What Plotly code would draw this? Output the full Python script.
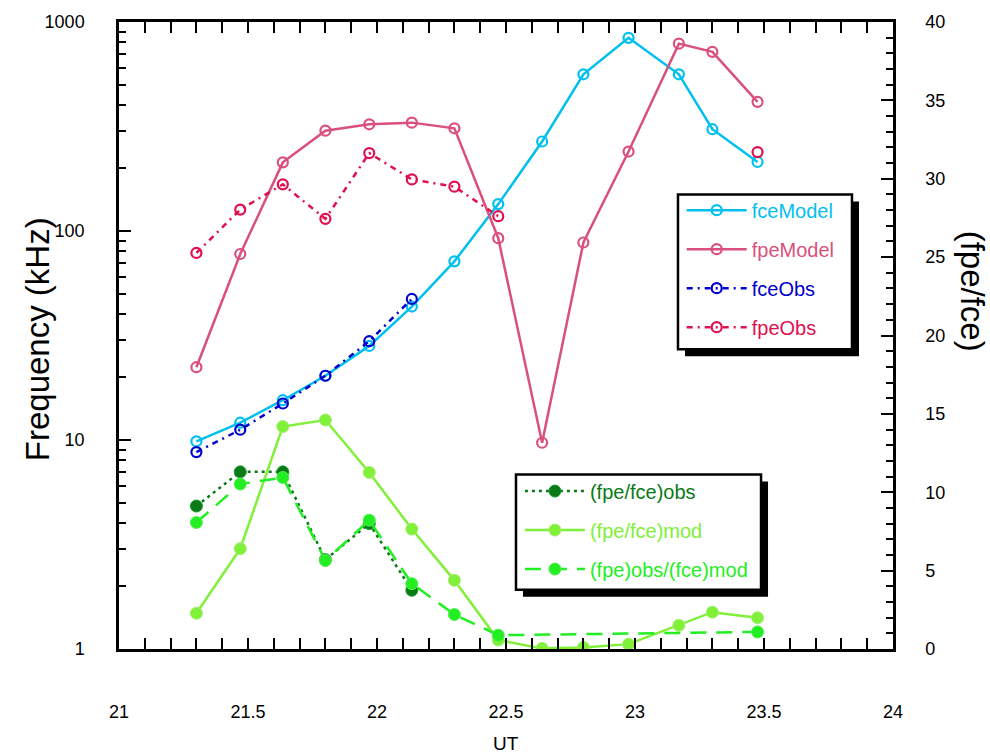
import plotly.graph_objects as go

# Universal time (hours) of each sample
ut = [21.30, 21.47, 21.635, 21.80, 21.97, 22.135, 22.30, 22.47, 22.64, 22.80, 22.975, 23.17, 23.30, 23.475]

# Frequencies in kHz (left log axis)
fce_model = [9.86, 12.1, 15.5, 20.3, 28.2, 43.5, 71.6, 134.5, 268, 562, 840, 562, 307, 214]
fpe_model = [22.3, 77.6, 213, 302, 324, 330, 310, 92.4, 9.7, 88.1, 240, 788, 720, 415]
fce_obs = [8.75, 11.2, 14.95, 20.3, 29.7, 47.3, None, None, None, None, None, None, None, None]
fpe_obs = [78.5, 126.6, 167.2, 114.3, 235.9, 176.6, 163, 117.7, None, None, None, None, None, 238.5]

# Frequency ratios (right linear axis)
ratio_obs = [9.12, 11.3, 11.3, 5.7, 8.0, 3.75, None, None, None, None, None, None, None, None]
ratio_mod = [2.28, 6.40, 14.19, 14.61, 11.26, 7.65, 4.38, 0.57, 0.04, 0.10, 0.31, 1.51, 2.35, 1.99]
ratio_obs_mod = [8.07, 10.52, 10.94, 5.64, 8.22, 4.17, 2.20, 0.88, None, None, None, None, None, 1.09]

FONT = "Liberation Sans, Arial, sans-serif"

C_FCE_MOD = "#00c0f0"
C_FPE_MOD = "#d9507c"
C_FCE_OBS = "#0000cc"
C_FPE_OBS = "#e0104e"
C_R_OBS = "#0a7a18"
C_R_MOD = "#80f038"
C_R_OM = "#22ee22"


def label(text, color):
    return f"<span style='color:{color}'>{text}</span>"


fig = go.Figure()

open_marker = dict(symbol="circle-open", size=10, line=dict(width=2.2))

fig.add_trace(go.Scatter(
    x=ut, y=fce_model, name=label("fceModel", C_FCE_MOD), mode="lines+markers",
    line=dict(color=C_FCE_MOD, width=2.5), marker=dict(color=C_FCE_MOD, **open_marker),
    legend="legend", legendgroup="a"))
fig.add_trace(go.Scatter(
    x=ut, y=fpe_model, name=label("fpeModel", C_FPE_MOD), mode="lines+markers",
    line=dict(color=C_FPE_MOD, width=2.5), marker=dict(color=C_FPE_MOD, **open_marker),
    legend="legend", legendgroup="b"))
fig.add_trace(go.Scatter(
    x=ut, y=fce_obs, name=label("fceObs", C_FCE_OBS), mode="lines+markers",
    line=dict(color=C_FCE_OBS, width=2.5, dash="6px,5px,2px,5px"),
    marker=dict(color=C_FCE_OBS, **open_marker),
    legend="legend", legendgroup="c"))
fig.add_trace(go.Scatter(
    x=ut, y=fpe_obs, name=label("fpeObs", C_FPE_OBS), mode="lines+markers",
    line=dict(color=C_FPE_OBS, width=2.5, dash="6px,5px,2px,5px"),
    marker=dict(color=C_FPE_OBS, **open_marker),
    legend="legend", legendgroup="d"))

fig.add_trace(go.Scatter(
    x=ut, y=ratio_obs, yaxis="y2", name=label("(fpe/fce)obs", C_R_OBS), mode="lines+markers",
    line=dict(color=C_R_OBS, width=2.5, dash="3px,4px"),
    marker=dict(color=C_R_OBS, size=12, line=dict(color="#1a9a2a", width=1)),
    legend="legend2", legendgroup="e"))
fig.add_trace(go.Scatter(
    x=ut, y=ratio_mod, yaxis="y2", name=label("(fpe/fce)mod", C_R_MOD), mode="lines+markers",
    line=dict(color=C_R_MOD, width=2.5),
    marker=dict(color=C_R_MOD, size=12, line=dict(color="#a0f070", width=1)),
    legend="legend2", legendgroup="f"))
fig.add_trace(go.Scatter(
    x=ut, y=ratio_obs_mod, yaxis="y2", name=label("(fpe)obs/(fce)mod", C_R_OM), mode="lines+markers",
    connectgaps=True,
    line=dict(color=C_R_OM, width=2.5, dash="16px,10px"),
    marker=dict(color=C_R_OM, size=12, line=dict(color="#50f050", width=1)),
    legend="legend2", legendgroup="g"))

axis_common = dict(
    showline=True, linecolor="black", linewidth=2.5,
    ticks="inside", tickcolor="black", tickwidth=2,
    showgrid=False, zeroline=False,
    tickfont=dict(family=FONT, size=18, color="black"),
)

legend_common = dict(
    xanchor="left", yanchor="top",
    bgcolor="rgba(0,0,0,0)", borderwidth=0,
    font=dict(family=FONT, size=20), tracegroupgap=10, itemwidth=60,
)

fig.update_layout(
    width=990, height=756,
    margin=dict(l=119, r=97, t=13, b=107),
    paper_bgcolor="white", plot_bgcolor="white",
    font=dict(family=FONT, color="black"),
    xaxis=dict(
        range=[21, 24], tickmode="array", tickvals=[21, 21.5, 22, 22.5, 23, 23.5, 24],
        ticktext=["21", "21.5", "22", "22.5", "23", "23.5", "24"],
        ticklen=11, mirror="allticks", ticklabelstandoff=45,
        minor=dict(dtick=0.1, ticks="inside", ticklen=6, tickcolor="black", tickwidth=2, showgrid=False),
        **axis_common),
    yaxis=dict(
        type="log", range=[0, 3], tickmode="array", tickvals=[1, 10, 100, 1000],
        ticktext=["1", "10", "100", "1000"], ticklen=12, ticklabelstandoff=28,
        minor=dict(tickmode="array",
                   tickvals=[2, 3, 4, 5, 6, 7, 8, 9, 20, 30, 40, 50, 60, 70, 80, 90,
                             200, 300, 400, 500, 600, 700, 800, 900],
                   ticks="inside", ticklen=7, tickcolor="black", tickwidth=2, showgrid=False),
        **axis_common),
    yaxis2=dict(
        overlaying="y", side="right", range=[0, 40], dtick=5, ticklen=12,
        ticklabelstandoff=26,
        minor=dict(dtick=1, ticks="inside", ticklen=7, tickcolor="black", tickwidth=2, showgrid=False),
        **axis_common),
    legend=dict(x=0.727, y=0.731, **legend_common),
    legend2=dict(x=0.518, y=0.283, **legend_common),
    showlegend=True,
)

# Framed legend panels with a drop shadow (paper coordinates)
panels = [
    (0.7222, 0.9470, 0.4780, 0.7248),
    (0.5129, 0.8295, 0.0943, 0.2783),
]
sx, sy = 7 / 774, 7 / 636
for x0, x1, y0, y1 in panels:
    fig.add_shape(type="rect", xref="paper", yref="paper", layer="above",
                  x0=x0 + sx, x1=x1 + sx, y0=y0 - sy, y1=y1 - sy,
                  fillcolor="black", line=dict(width=0))
    fig.add_shape(type="rect", xref="paper", yref="paper", layer="above",
                  x0=x0, x1=x1, y0=y0, y1=y1,
                  fillcolor="white", line=dict(color="black", width=2.5))

fig.add_annotation(text="Frequency (kHz)", xref="paper", yref="paper",
                   x=-0.106, y=0.494, xanchor="center", yanchor="middle",
                   textangle=-90, showarrow=False,
                   font=dict(family=FONT, size=33, color="black"))
fig.add_annotation(text="(fpe/fce)", xref="paper", yref="paper",
                   x=1.1025, y=0.571, xanchor="center", yanchor="middle",
                   textangle=90, showarrow=False,
                   font=dict(family=FONT, size=33, color="black"))
fig.add_annotation(text="UT", xref="paper", yref="paper",
                   x=0.5, y=-0.151, xanchor="center", yanchor="middle", showarrow=False,
                   font=dict(family=FONT, size=19, color="black"))

fig.write_html("out.html")
